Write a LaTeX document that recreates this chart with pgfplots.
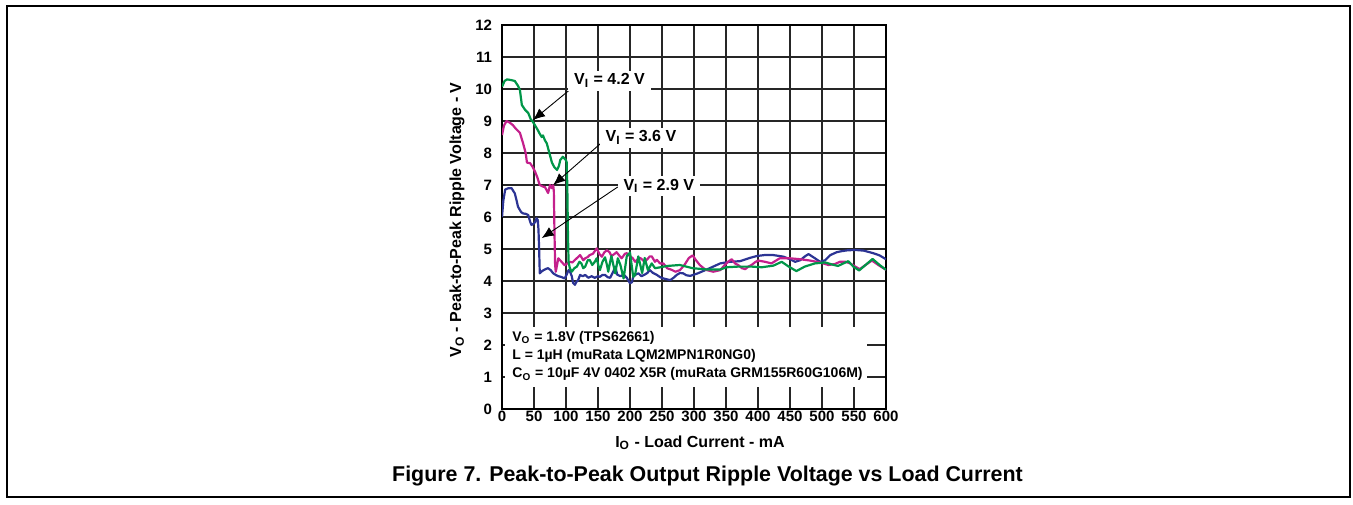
\documentclass[border=0pt]{standalone}
\usepackage{fontspec}
\setmainfont{Liberation Sans}
\usepackage{pgfplots}
\pgfplotsset{compat=1.18}
\usetikzlibrary{arrows.meta}
\definecolor{cgreen}{RGB}{0,150,72}
\definecolor{cmag}{RGB}{196,32,140}
\definecolor{cblue}{RGB}{44,52,148}

\begin{document}
\begin{tikzpicture}
\path[use as bounding box] (0,0) rectangle (676.5pt,252pt);
\draw[line width=0.75pt] (3.5pt,3.5pt) rectangle (675pt,249pt);
\begin{axis}[
    at={(251pt,47.5pt)}, anchor=south west,
    scale only axis, width=192pt, height=192pt,
    xmin=0, xmax=600, ymin=0, ymax=12,
    xtick={0,50,...,600}, ytick={0,1,...,12},
    grid=major, grid style={line width=0.65pt, black!85},
    axis line style={line width=1pt},
    major tick length=0pt,
    tick label style={font=\bfseries\fontsize{7.5}{8}\selectfont},
    /pgf/number format/assume math mode=true,
    xticklabel style={inner sep=0pt, yshift=-1pt},
    yticklabel style={xshift=-1.5pt},
    every axis plot/.append style={line width=1.1pt, line join=round},
]
% note box over the grid
\fill[white] (axis cs:5,0.7) rectangle (axis cs:570,2.56);

\addplot[color=cblue] coordinates {
(0,6.0)(2,6.5)(5,6.86)(10,6.9)(15,6.9)(18,6.8)(20,6.74)(23,6.5)(25,6.32)(30,6.15)
(33,6.11)(37,6.1)(41,6.06)(44,5.85)(46,5.75)(50,5.8)(52,5.85)(54,5.96)(56,5.9)(57,5.6)
(58,5.0)(59,4.24)(62,4.3)(65,4.34)(69,4.38)(72,4.4)(76,4.34)(80,4.24)(84,4.19)(88,4.15)
(92,4.13)(98,4.08)(101,4.2)(104,4.34)(106,4.3)(109,4.15)(111,3.94)(114,3.88)(116,3.97)(119,4.03)
(122,4.19)(126,4.15)(130,4.19)(135,4.1)(140,4.15)(145,4.1)(150,4.15)(153,4.13)(157,4.19)(161,4.19)
(165,4.12)(169,4.1)(174,4.3)(177,4.45)(180,4.2)(185,4.15)(190,4.2)(195,4.1)(200,3.93)(203,3.96)
(205,4.13)(209,4.2)(213,4.24)(218,4.15)(223,4.2)(227,4.25)(231,4.34)(236,4.25)(242,4.19)(247,4.12)
(252,4.08)(258,4.05)(263,4.03)(268,4.1)(273,4.19)(278,4.25)(283,4.24)(288,4.18)(294,4.16)(300,4.2)
(306,4.24)(313,4.3)(320,4.36)(330,4.45)(341,4.55)(356,4.6)(372,4.62)(387,4.72)(398,4.78)(410,4.81)
(424,4.81)(440,4.76)(450,4.68)(458,4.6)(466,4.65)(474,4.78)(479,4.84)(489,4.71)(497,4.6)(505,4.65)
(513,4.81)(523,4.9)(530,4.93)(540,4.96)(552,4.97)(565,4.95)(580,4.87)(590,4.8)(600,4.68)
};

\addplot[color=cmag] coordinates {
(0,8.56)(3,8.85)(7,9.0)(12,8.95)(17,8.87)(22,8.75)(28,8.63)(33,8.3)(37,8.0)(39,7.7)
(44,7.68)(48,7.56)(52,7.4)(55,7.25)(59,7.0)(64,6.95)(67,6.94)(72,6.75)(75,7.0)(78,6.9)
(80,7.0)(81,6.8)(82,5.5)(83,4.5)(84,4.29)(88,4.71)(93,4.6)(98,4.49)(102,4.55)(106,4.6)
(110,4.58)(114,4.66)(119,4.75)(122,4.81)(127,4.65)(130,4.71)(134,4.75)(137,4.81)(142,4.85)(148,5.02)
(152,4.85)(156,4.76)(160,4.9)(164,4.96)(168,4.9)(171,4.78)(176,4.85)(179,4.9)(183,4.8)(187,4.71)
(192,4.85)(195,4.87)(200,4.77)(204,4.72)(208,4.6)(213,4.7)(216,4.72)(223,4.6)(228,4.7)(231,4.77)
(234,4.77)(239,4.6)(242,4.66)(247,4.55)(252,4.55)(258,4.4)(265,4.35)(271,4.29)(278,4.34)(285,4.5)
(292,4.72)(298,4.8)(303,4.65)(309,4.5)(315,4.4)(320,4.34)(330,4.29)(341,4.34)(348,4.5)(353,4.6)
(359,4.68)(364,4.55)(369,4.5)(375,4.4)(380,4.37)(385,4.45)(390,4.5)(395,4.58)(400,4.64)(411,4.6)
(421,4.55)(434,4.71)(450,4.71)(466,4.68)(481,4.64)(497,4.58)(510,4.5)(520,4.53)(528,4.6)(537,4.6)
(544,4.55)(552,4.45)(559,4.37)(568,4.5)(578,4.64)(588,4.5)(600,4.35)
};

\addplot[color=cgreen] coordinates {
(0,10.07)(4,10.25)(8,10.3)(14,10.28)(20,10.25)(25,10.1)(28,9.97)(31,9.5)(36,9.35)(41,9.25)
(45,9.05)(48,8.98)(52,8.85)(55,8.75)(59,8.6)(62,8.5)(64,8.55)(67,8.4)(70,8.3)(74,8.0)
(78,7.7)(82,7.55)(86,7.47)(89,7.6)(91,7.78)(95,7.88)(99,7.8)(101,7.72)(102,7.0)(103,5.5)
(104,4.6)(106,4.4)(109,4.29)(113,4.4)(117,4.45)(121,4.6)(124,4.55)(127,4.4)(130,4.45)(134,4.65)
(137,4.66)(141,4.5)(145,4.6)(148,4.71)(151,4.45)(153,4.34)(157,4.6)(161,4.74)(164,4.5)(166,4.29)
(169,4.6)(171,4.78)(174,4.5)(177,4.24)(181,4.71)(185,4.5)(190,4.08)(195,4.78)(200,4.89)(205,4.13)
(208,4.2)(213,4.77)(219,4.25)(223,4.72)(228,4.34)(234,4.55)(239,4.4)(245,4.42)(258,4.47)(278,4.5)
(298,4.4)(320,4.36)(341,4.36)(351,4.43)(369,4.45)(390,4.45)(406,4.43)(424,4.48)(437,4.6)(448,4.45)
(460,4.31)(473,4.45)(489,4.55)(505,4.58)(515,4.52)(525,4.47)(541,4.62)(549,4.45)(558,4.33)(568,4.5)
(579,4.69)(590,4.5)(600,4.35)
};

% annotations
\draw[line width=0.45pt, -{Latex[length=6pt,width=5pt]}] (axis cs:111,10.06) -- (axis cs:48.4,9.03);
\draw[line width=0.45pt, -{Latex[length=6pt,width=5pt]}] (axis cs:164,8.47) -- (axis cs:80,7.0);
\draw[line width=0.45pt, -{Latex[length=6pt,width=5pt]}] (axis cs:181,6.94) -- (axis cs:62,5.34);
\node[fill=white, inner xsep=3pt, inner ysep=1.5pt, anchor=base, font=\bfseries\fontsize{8}{9}\selectfont]
  at (axis cs:168,10.125) {V\textsubscript{I} = 4.2 V};
\node[fill=white, inner xsep=3pt, inner ysep=1.5pt, anchor=base, font=\bfseries\fontsize{8}{9}\selectfont]
  at (axis cs:217,8.35) {V\textsubscript{I} = 3.6 V};
\node[fill=white, inner xsep=3pt, inner ysep=1.5pt, anchor=base, font=\bfseries\fontsize{8}{9}\selectfont]
  at (axis cs:245,6.84) {V\textsubscript{I} = 2.9 V};

\node[anchor=base west, inner sep=0pt, font=\bfseries\fontsize{7}{8}\selectfont]
  at (axis cs:15.6,2.125) {V\textsubscript{O} = 1.8V (TPS62661)};
\node[anchor=base west, inner sep=0pt, font=\bfseries\fontsize{7}{8}\selectfont]
  at (axis cs:15.6,1.55) {L = 1µH (muRata LQM2MPN1R0NG0)};
\node[anchor=base west, inner sep=0pt, font=\bfseries\fontsize{7}{8}\selectfont]
  at (axis cs:15.6,0.97) {C\textsubscript{O} = 10µF 4V 0402 X5R (muRata GRM155R60G106M)};
\end{axis}

\node[anchor=base, font=\bfseries\fontsize{8}{9}\selectfont] at (350pt,28.5pt)
  {I\textsubscript{O} - Load Current - mA};
\node[rotate=90, font=\bfseries\fontsize{8}{9}\selectfont] at (228.5pt,142pt)
  {V\textsubscript{O} - Peak-to-Peak Ripple Voltage - V};
\node[anchor=base, font=\bfseries\fontsize{10.7}{12}\selectfont] at (353.75pt,11.5pt)
  {Figure 7. Peak-to-Peak Output Ripple Voltage vs Load Current};
\end{tikzpicture}
\end{document}
